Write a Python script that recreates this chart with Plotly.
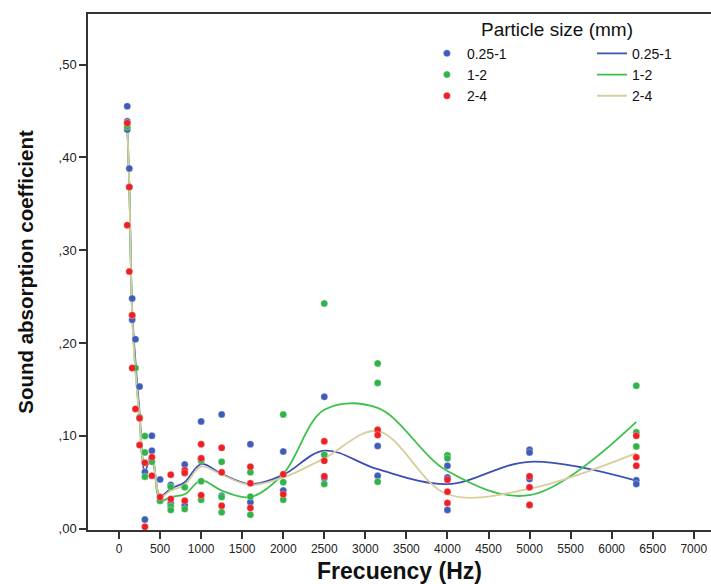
import plotly.graph_objects as go

# ---------------- data ----------------
freqs = [100, 125, 160, 200, 250, 315, 400, 500, 630, 800, 1000, 1250,
         1600, 2000, 2500, 3150, 4000, 5000, 6300]

pts_025_1 = [
    [0.455, 0.439, 0.430], [0.388], [0.248, 0.225], [0.204], [0.153],
    [0.061, 0.0097], [0.100, 0.084], [0.053, 0.030], [0.047, 0.027],
    [0.069, 0.025], [0.1155, 0.075], [0.123, 0.0355], [0.091, 0.0284],
    [0.083, 0.041], [0.142, 0.0545], [0.089, 0.057], [0.0677, 0.055, 0.020],
    [0.085, 0.082, 0.0534], [0.052, 0.048]]
pts_1_2 = [
    [0.437, 0.433], [0.368], [0.230], [0.173], [0.120],
    [0.0997, 0.082, 0.056], [0.072], [0.030], [0.045, 0.024, 0.020],
    [0.0445, 0.021], [0.073, 0.051, 0.031], [0.072, 0.034, 0.0176],
    [0.0606, 0.0344, 0.015], [0.123, 0.050, 0.031], [0.2425, 0.0796, 0.048],
    [0.178, 0.157, 0.0505], [0.079, 0.0757], [0.0255], [0.154, 0.1037, 0.0886]]
pts_2_4 = [
    [0.437, 0.327], [0.368, 0.277], [0.230, 0.173], [0.129], [0.119, 0.090],
    [0.071, 0.002], [0.077, 0.057], [0.034], [0.058, 0.032],
    [0.063, 0.060, 0.030], [0.091, 0.0757, 0.036], [0.087, 0.0606, 0.0247],
    [0.0667, 0.0488, 0.0223], [0.0585, 0.037], [0.094, 0.073, 0.0563],
    [0.1065, 0.1008], [0.0527, 0.0398, 0.0276], [0.0563, 0.0445, 0.0255],
    [0.100, 0.0768, 0.0677]]

# fitted (interpolation) line values at each frequency
fit_025_1 = [0.435, 0.370, 0.235, 0.180, 0.125, 0.062, 0.080, 0.035, 0.043,
             0.050, 0.0696, 0.059, 0.048, 0.058, 0.084, 0.064, 0.048, 0.072, 0.0516]
fit_1_2 = [0.440, 0.370, 0.230, 0.170, 0.120, 0.070, 0.072, 0.030, 0.034,
           0.037, 0.052, 0.041, 0.034, 0.059, 0.128, 0.130, 0.062, 0.036, 0.115]
fit_2_4 = [0.437, 0.370, 0.230, 0.170, 0.120, 0.068, 0.076, 0.034, 0.041,
           0.047, 0.067, 0.058, 0.047, 0.055, 0.0757, 0.105, 0.037, 0.043, 0.0814]

series = ["0.25-1", "1-2", "2-4"]
legend_title = "Particle size (mm)"
y_ticks = [0, 0.1, 0.2, 0.3, 0.4, 0.5]
y_ticklabels = [",00", ",10", ",20", ",30", ",40", ",50"]
x_ticks = list(range(0, 7001, 500))

# ---------------- styles ----------------
marker_colors = ["#3f5cb8", "#30b449", "#ee2026"]
line_colors = ["#3c50b4", "#3cc24b", "#d7ce9e"]
FONT = "Liberation Sans, Arial, sans-serif"


def flatten(pts):
    xs, ys = [], []
    for f, vals in zip(freqs, pts):
        for v in vals:
            xs.append(f)
            ys.append(v)
    return xs, ys


fig = go.Figure()
all_pts = [pts_025_1, pts_1_2, pts_2_4]
all_fit = [fit_025_1, fit_1_2, fit_2_4]

for i, name in enumerate(series):
    fig.add_trace(go.Scatter(
        x=freqs, y=all_fit[i], mode="lines", name=name, legend="legend2",
        legendrank=i + 1,
        line=dict(color=line_colors[i], width=1.8, shape="spline", smoothing=1.0),
    ))
for i, name in enumerate(series):
    xs, ys = flatten(all_pts[i])
    fig.add_trace(go.Scatter(
        x=xs, y=ys, mode="markers", name=name, legend="legend",
        legendrank=i + 1,
        marker=dict(color=marker_colors[i], size=7,
                    line=dict(width=0.6, color="rgba(255,255,255,0.5)")),
    ))

leg_common = dict(
    orientation="v", yanchor="top", xanchor="left", y=0.954,
    font=dict(size=14, family=FONT, color="#111111"),
    bgcolor="rgba(0,0,0,0)", tracegroupgap=0, itemwidth=30,
    traceorder="normal",
)

fig.update_layout(
    width=711, height=584,
    margin=dict(l=88, r=0, t=14, b=54),
    paper_bgcolor="white", plot_bgcolor="white",
    font=dict(family=FONT, color="#222222"),
    showlegend=True,
    legend=dict(x=0.544, **leg_common),
    legend2=dict(x=0.809, **leg_common),
    annotations=[dict(
        text=legend_title, xref="paper", yref="paper", x=0.753, y=0.969,
        xanchor="center", yanchor="middle", showarrow=False,
        font=dict(size=19, family=FONT, color="#111111"),
    )],
    xaxis=dict(
        range=[-378, 7210], tickvals=x_ticks, ticktext=[str(t) for t in x_ticks],
        showgrid=False, zeroline=False, showline=True, linecolor="#333333",
        linewidth=1.5, mirror=True, ticks="outside", ticklen=7, tickwidth=1.5,
        tickcolor="#333333", tickfont=dict(size=12, family=FONT, color="#222222"),
        title=dict(text="<b>Frecuency (Hz)</b>", font=dict(size=23, family=FONT, color="#111111"),
                   standoff=10),
    ),
    yaxis=dict(
        range=[-0.0015, 0.5545], tickvals=y_ticks, ticktext=y_ticklabels,
        showgrid=False, zeroline=False, showline=True, linecolor="#333333",
        linewidth=1.5, ticks="outside", ticklen=7, tickwidth=1.5,
        tickcolor="#333333", tickfont=dict(size=13, family=FONT, color="#222222"),
        title=dict(text="<b>Sound absorption coefficient</b>",
                   font=dict(size=20.5, family=FONT, color="#111111"), standoff=19),
    ),
)

fig.write_html("out.html")
